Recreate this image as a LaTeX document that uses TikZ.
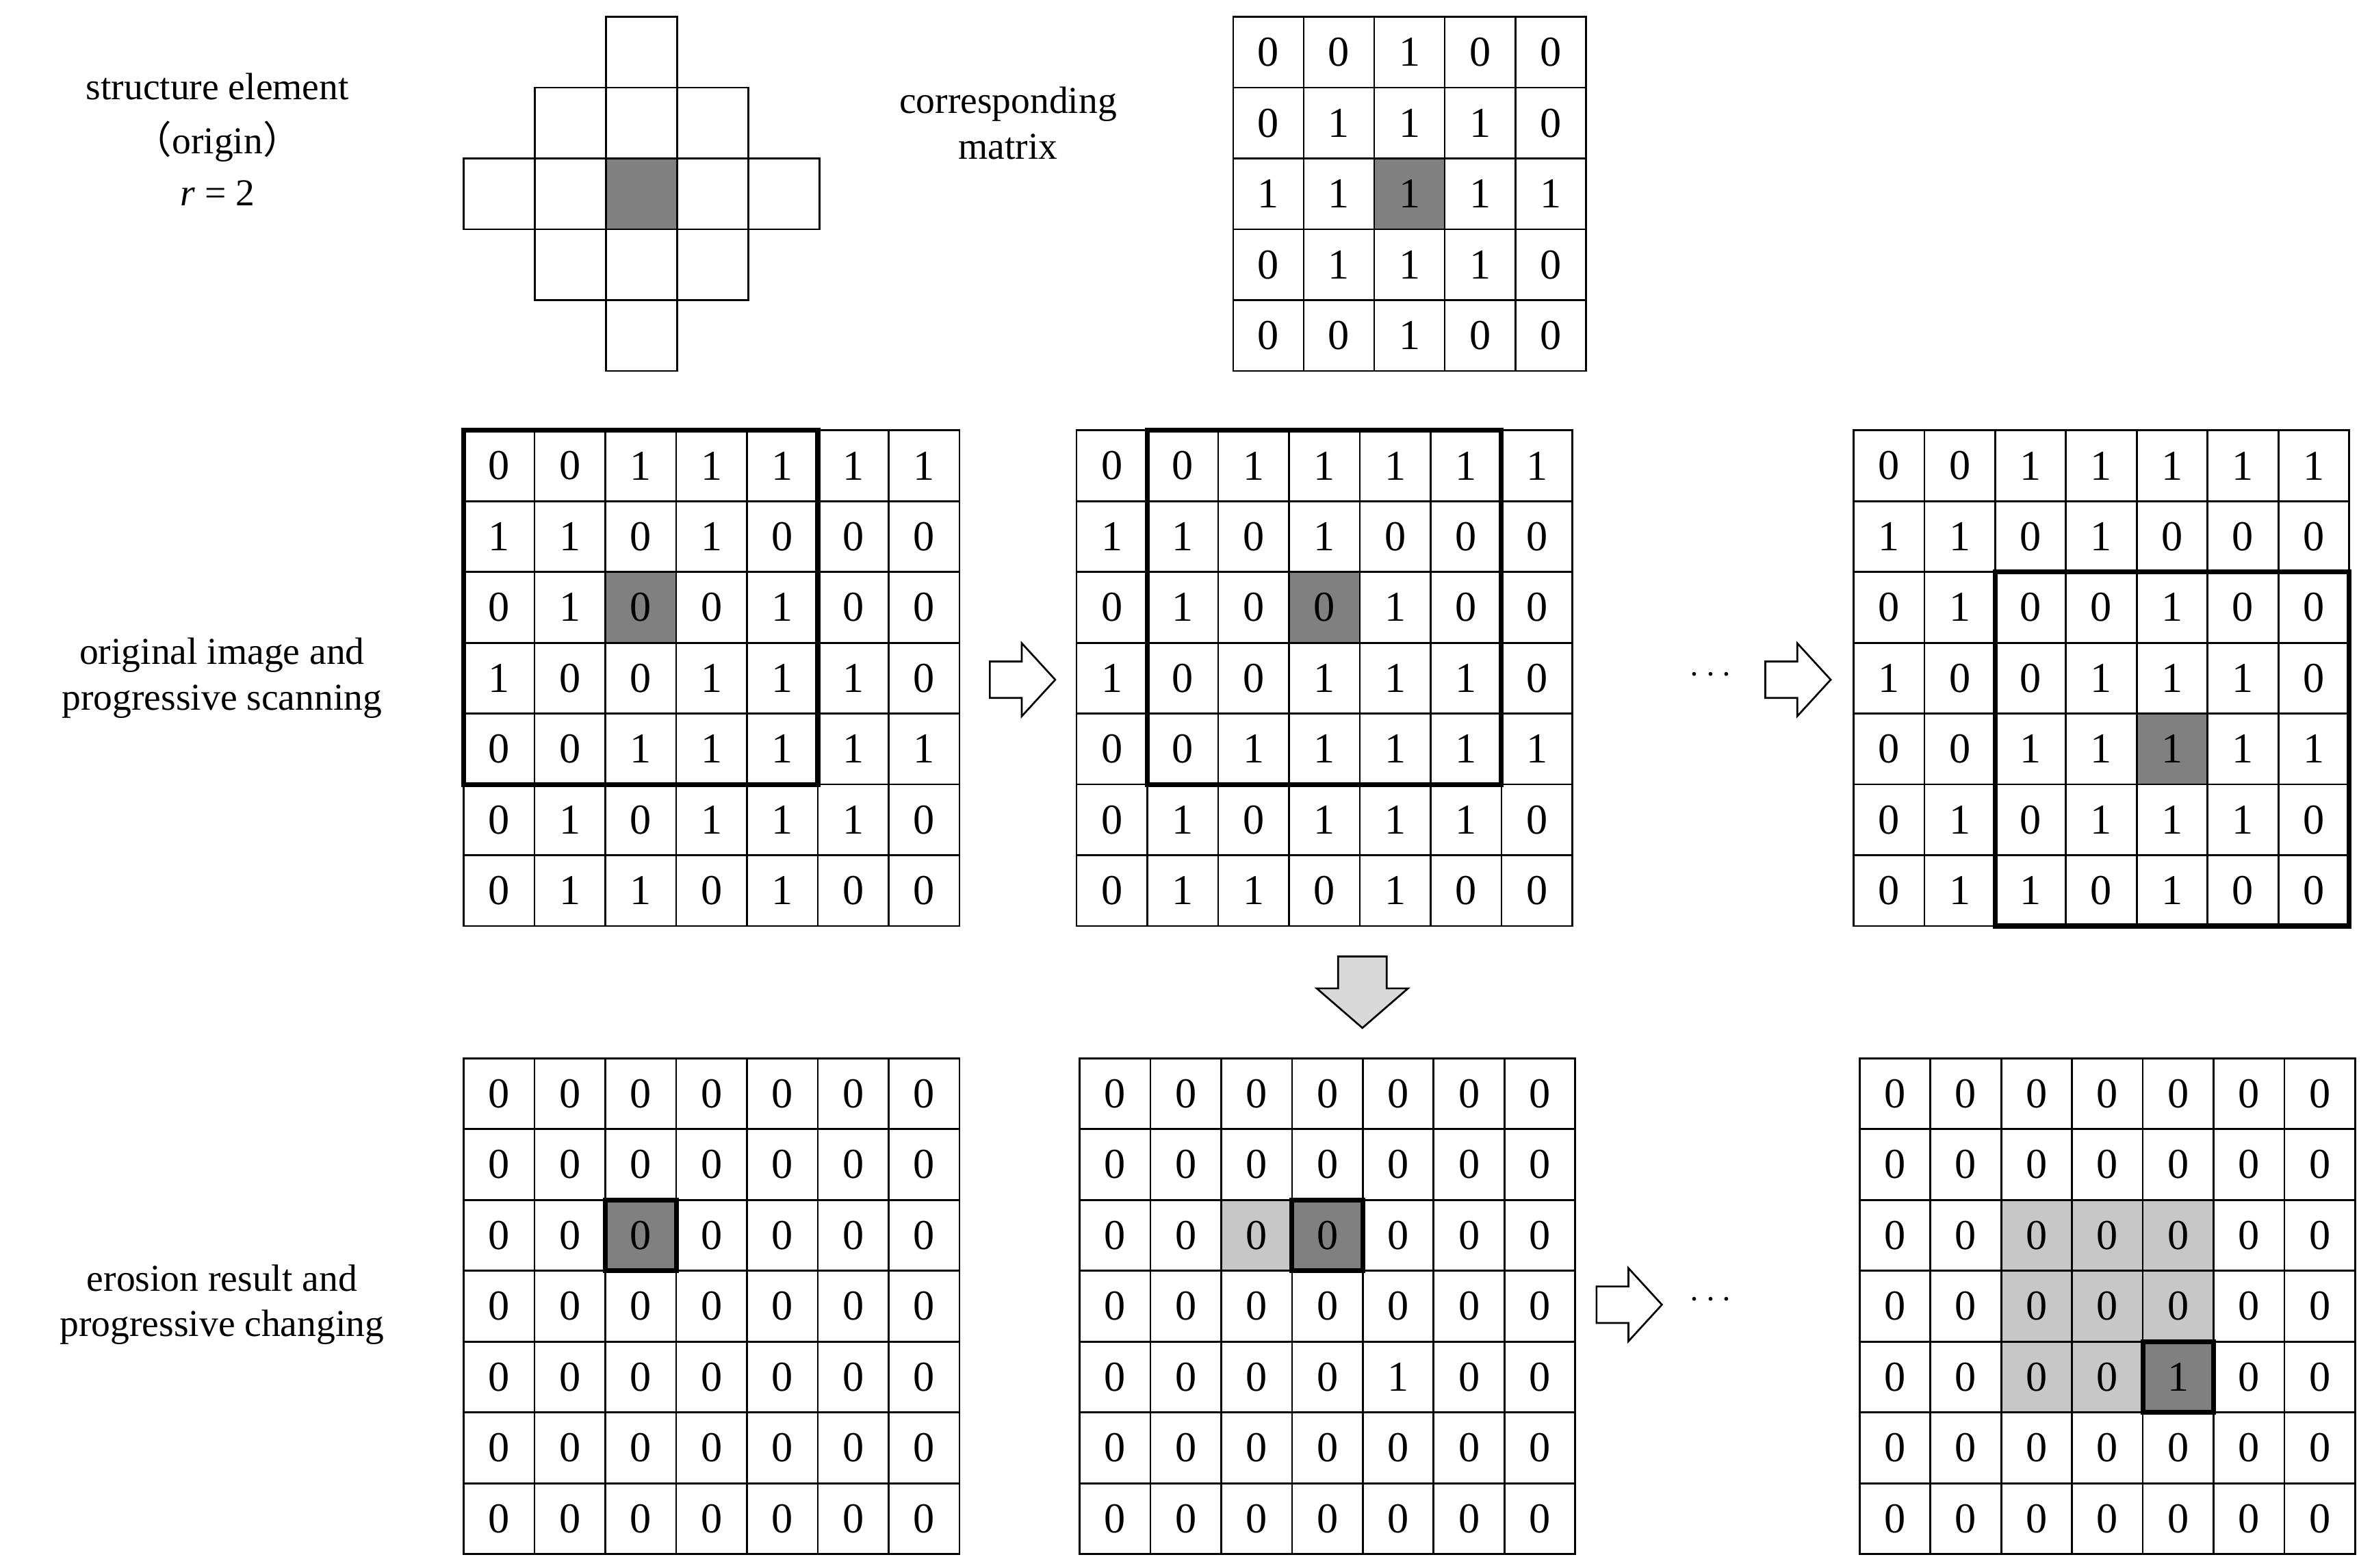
\documentclass[tikz,border=0pt]{standalone}
\usepackage{fontspec}
\setmainfont{Liberation Serif}
\newfontfamily\cjk{Noto Sans CJK SC}
\begin{document}
\begin{tikzpicture}[x=0.5pt,y=-0.5pt,
  cell/.style={draw,line width=0.6pt,minimum size=23.28pt,inner sep=0pt,outer sep=0pt,font=\fontsize{14}{14}\selectfont},
  bold/.style={line width=1.6pt},
  dk/.style={fill=black!50},
  lt/.style={fill=black!22},
  lbl/.style={font=\fontsize{12.5}{15}\selectfont,align=center},
  harrow/.style={draw,line width=0.6pt,fill=white}]
\useasboundingbox (0,0) rectangle (1560,1031);
\def\w{46.57}
\newcommand\mygrid[4]{%
  \foreach \row [count=\r from 0] in {#4} {
    \foreach \v [count=\c from 0] in \row {
      \node[cell] (#1-\r-\c) at ({#2+(\c+0.5)*\w},{#3+(\r+0.5)*\w}) {\v};
    }}}
\newcommand\cellfill[5]{\fill[#1] ({#2+#5*\w},{#3+#4*\w}) rectangle ++(\w,\w);}
\newcommand\boldbox[7]{\draw[bold] ({#1+#4*\w},{#2+#3*\w}) rectangle ({#1+(#6+1)*\w},{#2+(#5+1)*\w});}
\newcommand\rarrow[3]{\draw[harrow] (#1,#2-12)--(#1+21,#2-12)--(#1+21,#2-24)--(#1+43,#2)--(#1+21,#2+24)--(#1+21,#2+12)--(#1,#2+12)--cycle;}
% labels
\node[lbl] (l1) at (143,57) {structure element};
\node[lbl] (l2) at (143,93) {{\cjk （}origin{\cjk ）}};
\node[lbl] (l3) at (143,127) {\textit{r} = 2};
\node[lbl] (l4) at (663,81) {corresponding\\matrix};
\node[lbl] (l5) at (146,446) {original image and\\progressive scanning};
\node[lbl] (l6) at (146,858) {erosion result and\\progressive changing};
% structure element
\fill[black!50] (399,104) rectangle (446,151);
\foreach \r/\a/\b in {0/2/2,1/1/3,2/0/4,3/1/3,4/2/2}
  \foreach \c in {\a,...,\b}
    \draw[line width=0.6pt] ({305+\c*46.8},{11+\r*46.6}) rectangle ++(46.8,46.6);
% matrix
\fill[black!50] ({811+2*46.4},{11+2*46.6}) rectangle ++(46.4,46.6);
\begin{scope}[cell/.append style={minimum width=23.2pt,minimum height=23.3pt}]
\foreach \row [count=\r from 0] in {{0,0,1,0,0},{0,1,1,1,0},{1,1,1,1,1},{0,1,1,1,0},{0,0,1,0,0}}
  \foreach \v [count=\c from 0] in \row
    \node[cell] (m-\r-\c) at ({811+(\c+0.5)*46.4},{11+(\r+0.5)*46.6}) {\v};
\end{scope}
% grids top
\def\data{{0,0,1,1,1,1,1},{1,1,0,1,0,0,0},{0,1,0,0,1,0,0},{1,0,0,1,1,1,0},{0,0,1,1,1,1,1},{0,1,0,1,1,1,0},{0,1,1,0,1,0,0}}
\cellfill{dk}{305}{283}{2}{2}
\cellfill{dk}{708}{283}{2}{3}
\cellfill{dk}{1219}{283}{4}{4}
\mygrid{a}{305}{283}{{0,0,1,1,1,1,1},{1,1,0,1,0,0,0},{0,1,0,0,1,0,0},{1,0,0,1,1,1,0},{0,0,1,1,1,1,1},{0,1,0,1,1,1,0},{0,1,1,0,1,0,0}}
\mygrid{b}{708}{283}{{0,0,1,1,1,1,1},{1,1,0,1,0,0,0},{0,1,0,0,1,0,0},{1,0,0,1,1,1,0},{0,0,1,1,1,1,1},{0,1,0,1,1,1,0},{0,1,1,0,1,0,0}}
\mygrid{c}{1219}{283}{{0,0,1,1,1,1,1},{1,1,0,1,0,0,0},{0,1,0,0,1,0,0},{1,0,0,1,1,1,0},{0,0,1,1,1,1,1},{0,1,0,1,1,1,0},{0,1,1,0,1,0,0}}
\boldbox{305}{283}{0}{0}{4}{4}{}
\boldbox{708}{283}{0}{1}{4}{5}{}
\boldbox{1219}{283}{2}{2}{6}{6}{}
% bottom grids
\cellfill{dk}{305}{696}{2}{2}
\cellfill{lt}{710}{696}{2}{2}
\cellfill{dk}{710}{696}{2}{3}
\foreach \r/\c in {2/2,2/3,2/4,3/2,3/3,3/4,4/2,4/3} {\cellfill{lt}{1223}{696}{\r}{\c}}
\cellfill{dk}{1223}{696}{4}{4}
\mygrid{d}{305}{696}{{0,0,0,0,0,0,0},{0,0,0,0,0,0,0},{0,0,0,0,0,0,0},{0,0,0,0,0,0,0},{0,0,0,0,0,0,0},{0,0,0,0,0,0,0},{0,0,0,0,0,0,0}}
\mygrid{e}{710}{696}{{0,0,0,0,0,0,0},{0,0,0,0,0,0,0},{0,0,0,0,0,0,0},{0,0,0,0,0,0,0},{0,0,0,0,1,0,0},{0,0,0,0,0,0,0},{0,0,0,0,0,0,0}}
\mygrid{f}{1223}{696}{{0,0,0,0,0,0,0},{0,0,0,0,0,0,0},{0,0,0,0,0,0,0},{0,0,0,0,0,0,0},{0,0,0,0,1,0,0},{0,0,0,0,0,0,0},{0,0,0,0,0,0,0}}
\boldbox{305}{696}{2}{2}{2}{2}{}
\boldbox{710}{696}{2}{3}{2}{3}{}
\boldbox{1223}{696}{4}{4}{4}{4}{}
% arrows
\rarrow{651}{447}
\rarrow{1050}{447}
\rarrow{1161}{447}
\rarrow{651}{858}
\rarrow{1050}{858}
\rarrow{1161}{858}
\node[lbl] (d1) at (1125,444) {$\cdots$};
\node[lbl] (d2) at (1125,855) {$\cdots$};
\draw[line width=0.6pt,fill=black!15] (880,629)--(912,629)--(912,650)--(926,650)--(896,676)--(866,650)--(880,650)--cycle;
\end{tikzpicture}
\end{document}
